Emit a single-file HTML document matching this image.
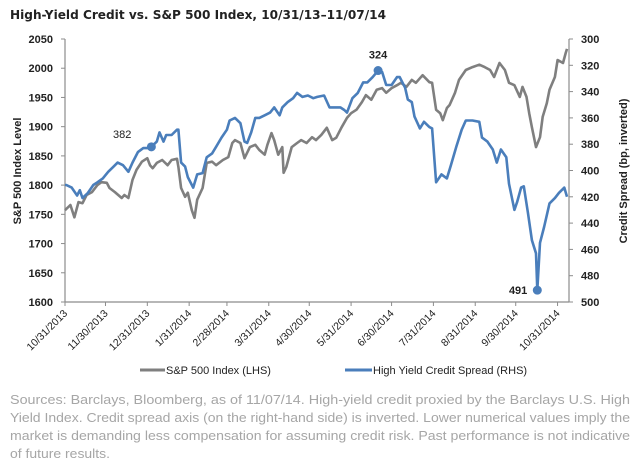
<!DOCTYPE html>
<html><head><meta charset="utf-8">
<style>
html,body{margin:0;padding:0;background:#fff;}
svg{display:block;font-family:"Liberation Sans","DejaVu Sans",sans-serif;}
</style></head>
<body>
<svg id="chart" width="640" height="466" viewBox="0 0 640 466" xmlns="http://www.w3.org/2000/svg">
<text x="10" y="19" font-family="DejaVu Sans, sans-serif" font-weight="bold" font-size="12" fill="#222" textLength="376" lengthAdjust="spacingAndGlyphs">High-Yield Credit vs. S&amp;P 500 Index, 10/31/13–11/07/14</text>
<g id="axes"></g>
<g id="series"></g>
<text transform="translate(21,171) rotate(-90)" text-anchor="middle" font-weight="bold" font-size="11" fill="#222">S&amp;P 500 Index Level</text>
<text transform="translate(627,171) rotate(-90)" text-anchor="middle" font-weight="bold" font-size="11" fill="#222">Credit Spread (bp, inverted)</text>
<g>
<line x1="140" y1="370" x2="165" y2="370" stroke="#7f7f7f" stroke-width="3"/>
<text x="166" y="374" font-size="11" fill="#222">S&amp;P 500 Index (LHS)</text>
<line x1="345" y1="370" x2="372" y2="370" stroke="#4a7ebb" stroke-width="3"/>
<text x="373" y="374" font-size="11" fill="#222">High Yield Credit Spread (RHS)</text>
</g>
<g font-size="13" fill="#a6a6a6">
<text x="10" y="404" textLength="620" lengthAdjust="spacingAndGlyphs">Sources: Barclays, Bloomberg, as of 11/07/14. High-yield credit proxied by the Barclays U.S. High</text>
<text x="10" y="422" textLength="620" lengthAdjust="spacingAndGlyphs">Yield Index. Credit spread axis (on the right-hand side) is inverted. Lower numerical values imply the</text>
<text x="10" y="440" textLength="620" lengthAdjust="spacingAndGlyphs">market is demanding less compensation for assuming credit risk. Past performance is not indicative</text>
<text x="10" y="458" textLength="100" lengthAdjust="spacingAndGlyphs">of future results.</text>
</g>
</svg>
<script>
// Data (day offsets from 10/31/2013)
const monthLabels = ["10/31/2013","11/30/2013","12/31/2013","1/31/2014","2/28/2014","3/31/2014","4/30/2014","5/31/2014","6/30/2014","7/31/2014","8/31/2014","9/30/2014","10/31/2014"];
const monthDays = [0,30,61,92,120,151,181,212,242,273,304,334,365];
const leftTicks = [1600,1650,1700,1750,1800,1850,1900,1950,2000,2050];
const rightTicks = [300,320,340,360,380,400,420,440,460,480,500];
const spxDays = [0,4,7,10,13,16,20,24,27,31,33,37,42,44,47,50,53,57,61,63,65,68,72,76,79,83,84,86,89,91,94,96,98,102,105,109,112,117,121,124,126,130,133,137,141,144,148,150,153,155,158,161,162,164,168,172,175,179,183,186,190,194,198,201,205,209,212,216,220,223,227,231,235,238,242,246,249,253,257,260,265,270,272,275,278,280,283,285,289,292,297,302,307,311,315,318,322,326,329,333,337,339,342,344,346,349,352,354,357,359,363,365,369,371,372];
const spxVals = [1757,1766,1745,1771,1769,1783,1788,1800,1805,1804,1795,1788,1778,1783,1778,1809,1826,1840,1846,1834,1829,1838,1843,1834,1843,1845,1831,1795,1780,1787,1757,1744,1775,1795,1838,1840,1834,1843,1848,1872,1877,1872,1846,1865,1869,1860,1852,1869,1889,1877,1852,1865,1821,1831,1865,1872,1877,1872,1882,1877,1886,1898,1877,1881,1899,1915,1923,1929,1942,1954,1946,1963,1966,1958,1966,1971,1975,1968,1980,1975,1988,1976,1975,1929,1923,1911,1932,1937,1958,1980,1997,2002,2006,2002,1997,1985,2009,1997,1975,1971,1951,1968,1951,1923,1899,1865,1882,1917,1940,1963,1985,2014,2009,2026,2033];
const hyDays = [0,1,5,9,11,13,17,21,24,28,32,36,39,43,47,50,54,58,61,64,68,70,73,75,79,83,84,86,89,91,95,98,102,105,109,112,116,120,122,126,130,133,135,138,141,144,148,152,155,159,161,165,169,172,176,180,184,187,192,196,200,204,207,209,213,217,221,224,228,232,235,238,242,246,248,252,254,257,259,263,266,270,272,275,279,283,286,290,294,297,302,307,309,313,317,320,323,327,329,333,335,338,340,343,346,349,350,352,355,359,363,366,370,372];
const hyVals = [411,411,413,419,415,421,417,411,409,406,401,397,394,396,401,394,386,383,383,382,378,371,378,373,373,369,369,394,397,405,413,403,402,390,387,382,375,369,362,360,364,378,379,371,360,360,358,356,352,358,352,348,345,341,344,343,345,344,343,352,352,352,354,356,345,341,333,333,329,324,325,335,335,329,329,337,346,348,359,368,363,367,368,409,403,406,396,382,369,362,362,363,375,378,384,394,384,390,410,430,424,413,412,432,453,463,491,455,443,425,421,417,413,420];
const callouts = [{day:64,val:382,label:"382",dx:-20,dy:-9},{day:232,val:324,label:"324",dx:0,dy:-12},{day:350,val:491,label:"491",dx:-10,dy:4}];

const X0=65, X1=567, YT=39, YB=302;
const dayMax=372;
function xOf(d){return X0+d*(X1-X0)/dayMax;}
function yL(v){return YB-(v-1600)*(YB-YT)/450;}
function yR(v){return YT+(v-300)*(YB-YT)/200;}
const NS="http://www.w3.org/2000/svg";
function mk(tag,attrs,parent){const e=document.createElementNS(NS,tag);for(const k in attrs)e.setAttribute(k,attrs[k]);parent.appendChild(e);return e;}
const axes=document.getElementById('axes'), series=document.getElementById('series');
const axCol="#8c8c8c";
let e;
e=mk('line',{x1:X0,y1:YT,x2:X0,y2:YB,stroke:axCol,'stroke-width':1.2},axes);


e=mk('line',{x1:569,y1:YT,x2:569,y2:YB,stroke:axCol,'stroke-width':1.2},axes);


e=mk('line',{x1:X0,y1:YB,x2:569,y2:YB,stroke:axCol,'stroke-width':1.2},axes);


leftTicks.forEach(v=>{
  const y=yL(v);
  mk('line',{x1:X0-4,y1:y,x2:X0,y2:y,stroke:axCol},axes);
  e=mk('text',{x:53,y:y+4,'text-anchor':'end','font-size':11,'font-weight':'bold',fill:'#222'},axes);
  e.textContent=v;
  
  
});
rightTicks.forEach(v=>{
  const y=yR(v);
  mk('line',{x1:569,y1:y,x2:573,y2:y,stroke:axCol},axes);
  e=mk('text',{x:581,y:y+4,'font-size':11,'font-weight':'bold',fill:'#222'},axes);
  e.textContent=v;
  
  
});
monthLabels.forEach((lab,i)=>{
  const x=xOf(monthDays[i]);
  mk('line',{x1:x,y1:YB,x2:x,y2:YB+4,stroke:axCol},axes);
  e=mk('text',{transform:`translate(${x+3},${YB+12}) rotate(-45)`,'text-anchor':'end','font-size':10.5,fill:'#222'},axes);
  e.textContent=lab;
  
  
});
function line(days,vals,yf,col,name){
  const d=days.map((dd,i)=>(i?'L':'M')+xOf(dd).toFixed(1)+','+yf(vals[i]).toFixed(1)).join('');
  const p=mk('path',{d:d,fill:'none',stroke:col,'stroke-width':2.6,'stroke-linejoin':'round'},series);
  
  
}
line(spxDays,spxVals,yL,'#7f7f7f','spx-line');
line(hyDays,hyVals,yR,'#4a7ebb','hy-spread-line');
callouts.forEach(c=>{
  const x=xOf(c.day), y=yR(c.val);
  const dot=mk('circle',{cx:x,cy:y,r:4.5,fill:'#4a7ebb'},series);
  
  
  const anchor=c.dx<-5?'end':'middle';
  const t=mk('text',{x:x+c.dx,y:y+c.dy,'text-anchor':anchor,'font-size':11,'font-weight':c.label==='382'?'normal':'bold',fill:'#222'},series);
  t.textContent=c.label;
  
  
});
</script>
</body></html>
